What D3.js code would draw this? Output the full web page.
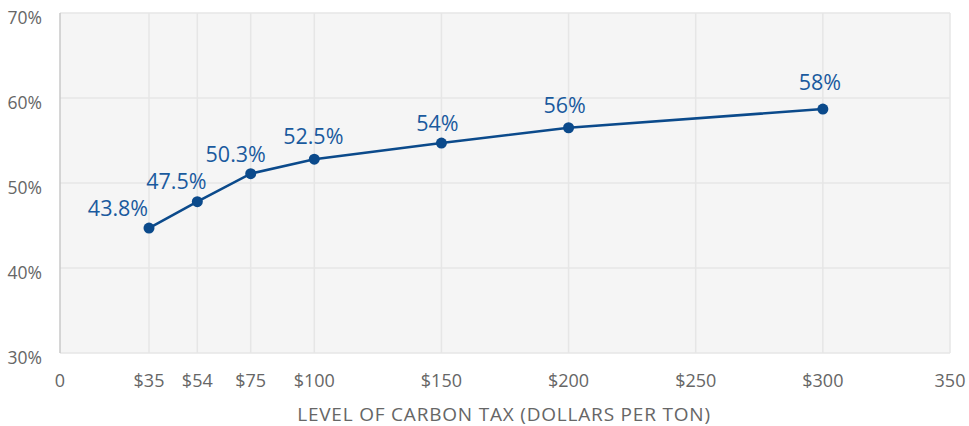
<!DOCTYPE html>
<html>
<head>
<meta charset="utf-8">
<script src="https://cdn.jsdelivr.net/npm/d3@7"></script>
<style>
  body { margin: 0; background: #fff; }
  text { font-family: "Open Sans", sans-serif; }
</style>
</head>
<body>
<script>
// carbon tax levels (dollars per ton) and share
const taxLevels = [35, 54, 75, 100, 150, 200, 300];
const shareValues = [44.7, 47.8, 51.1, 52.8, 54.7, 56.5, 58.7];
const pointLabels = ["43.8%", "47.5%", "50.3%", "52.5%", "54%", "56%", "58%"];
const xTicks = [0, 35, 54, 75, 100, 150, 200, 250, 300, 350];
const xTickLabels = ["0", "$35", "$54", "$75", "$100", "$150", "$200", "$250", "$300", "350"];
const yTicks = [30, 40, 50, 60, 70];
const xTitle = "LEVEL OF CARBON TAX (DOLLARS PER TON)";

// label nudges relative to each point (layout only)
const labelShift = [[-31, -12], [-21, -13], [-15, -12], [-1, -15], [-4, -12], [-4, -15], [-3, -19]];

const W = 969, H = 426;
const margin = {top: 13, right: 19, bottom: 73, left: 60};
const width = W - margin.left - margin.right,
      height = H - margin.top - margin.bottom;

const svg = d3.select("body").append("svg")
    .attr("width", W)
    .attr("height", H);

const g = svg.append("g")
    .attr("transform", "translate(" + margin.left + "," + margin.top + ")");

const x = d3.scaleLinear().domain([0, 350]).range([0, width]);
const y = d3.scaleLinear().domain([30, 70]).range([height, 0]);

// plot background
g.append("rect")
    .attr("width", width)
    .attr("height", height)
    .attr("fill", "#f5f5f5");

// grid lines
g.selectAll(".vgrid")
    .data(xTicks.slice(1))
    .enter().append("line")
    .attr("x1", d => x(d)).attr("x2", d => x(d))
    .attr("y1", 0).attr("y2", height)
    .attr("stroke", "#e6e6e6")
    .attr("stroke-width", 1.5);

g.selectAll(".hgrid")
    .data(yTicks)
    .enter().append("line")
    .attr("x1", 0).attr("x2", width)
    .attr("y1", d => y(d)).attr("y2", d => y(d))
    .attr("stroke", "#e6e6e6")
    .attr("stroke-width", 1.5);

// left axis line
g.append("line")
    .attr("x1", 0).attr("x2", 0)
    .attr("y1", 0).attr("y2", height)
    .attr("stroke", "#c8c8c8")
    .attr("stroke-width", 1.5);

// y tick labels
g.selectAll(".ylab")
    .data(yTicks)
    .enter().append("text")
    .attr("x", -18)
    .attr("y", d => y(d) + 11)
    .attr("text-anchor", "end")
    .attr("font-size", 17.5)
    .attr("fill", "#666")
    .text(d => d + "%");

// x tick labels
g.selectAll(".xlab")
    .data(xTicks)
    .enter().append("text")
    .attr("x", d => x(d))
    .attr("y", height + 34)
    .attr("text-anchor", "middle")
    .attr("font-size", 18)
    .attr("fill", "#666")
    .text((d, i) => xTickLabels[i]);

// axis title
g.append("text")
    .attr("x", width / 2 - 1)
    .attr("y", height + 68)
    .attr("text-anchor", "middle")
    .attr("font-size", 19)
    .attr("letter-spacing", 0.8)
    .attr("fill", "#666")
    .text(xTitle);

const data = taxLevels.map((t, i) => ({tax: t, share: shareValues[i], label: pointLabels[i]}));

// line
const line = d3.line()
    .x(d => x(d.tax))
    .y(d => y(d.share));

g.append("path")
    .datum(data)
    .attr("d", line)
    .attr("fill", "none")
    .attr("stroke", "#0b4a8b")
    .attr("stroke-width", 2.5);

g.selectAll(".dot")
    .data(data)
    .enter().append("circle")
    .attr("cx", d => x(d.tax))
    .attr("cy", d => y(d.share))
    .attr("r", 5.5)
    .attr("fill", "#0b4a8b");

g.selectAll(".vlab")
    .data(data)
    .enter().append("text")
    .attr("x", (d, i) => x(d.tax) + labelShift[i][0])
    .attr("y", (d, i) => y(d.share) + labelShift[i][1])
    .attr("text-anchor", "middle")
    .attr("font-size", 21.5)
    .attr("fill", "#1a5a9e")
    .text(d => d.label);
</script>
</body>
</html>
